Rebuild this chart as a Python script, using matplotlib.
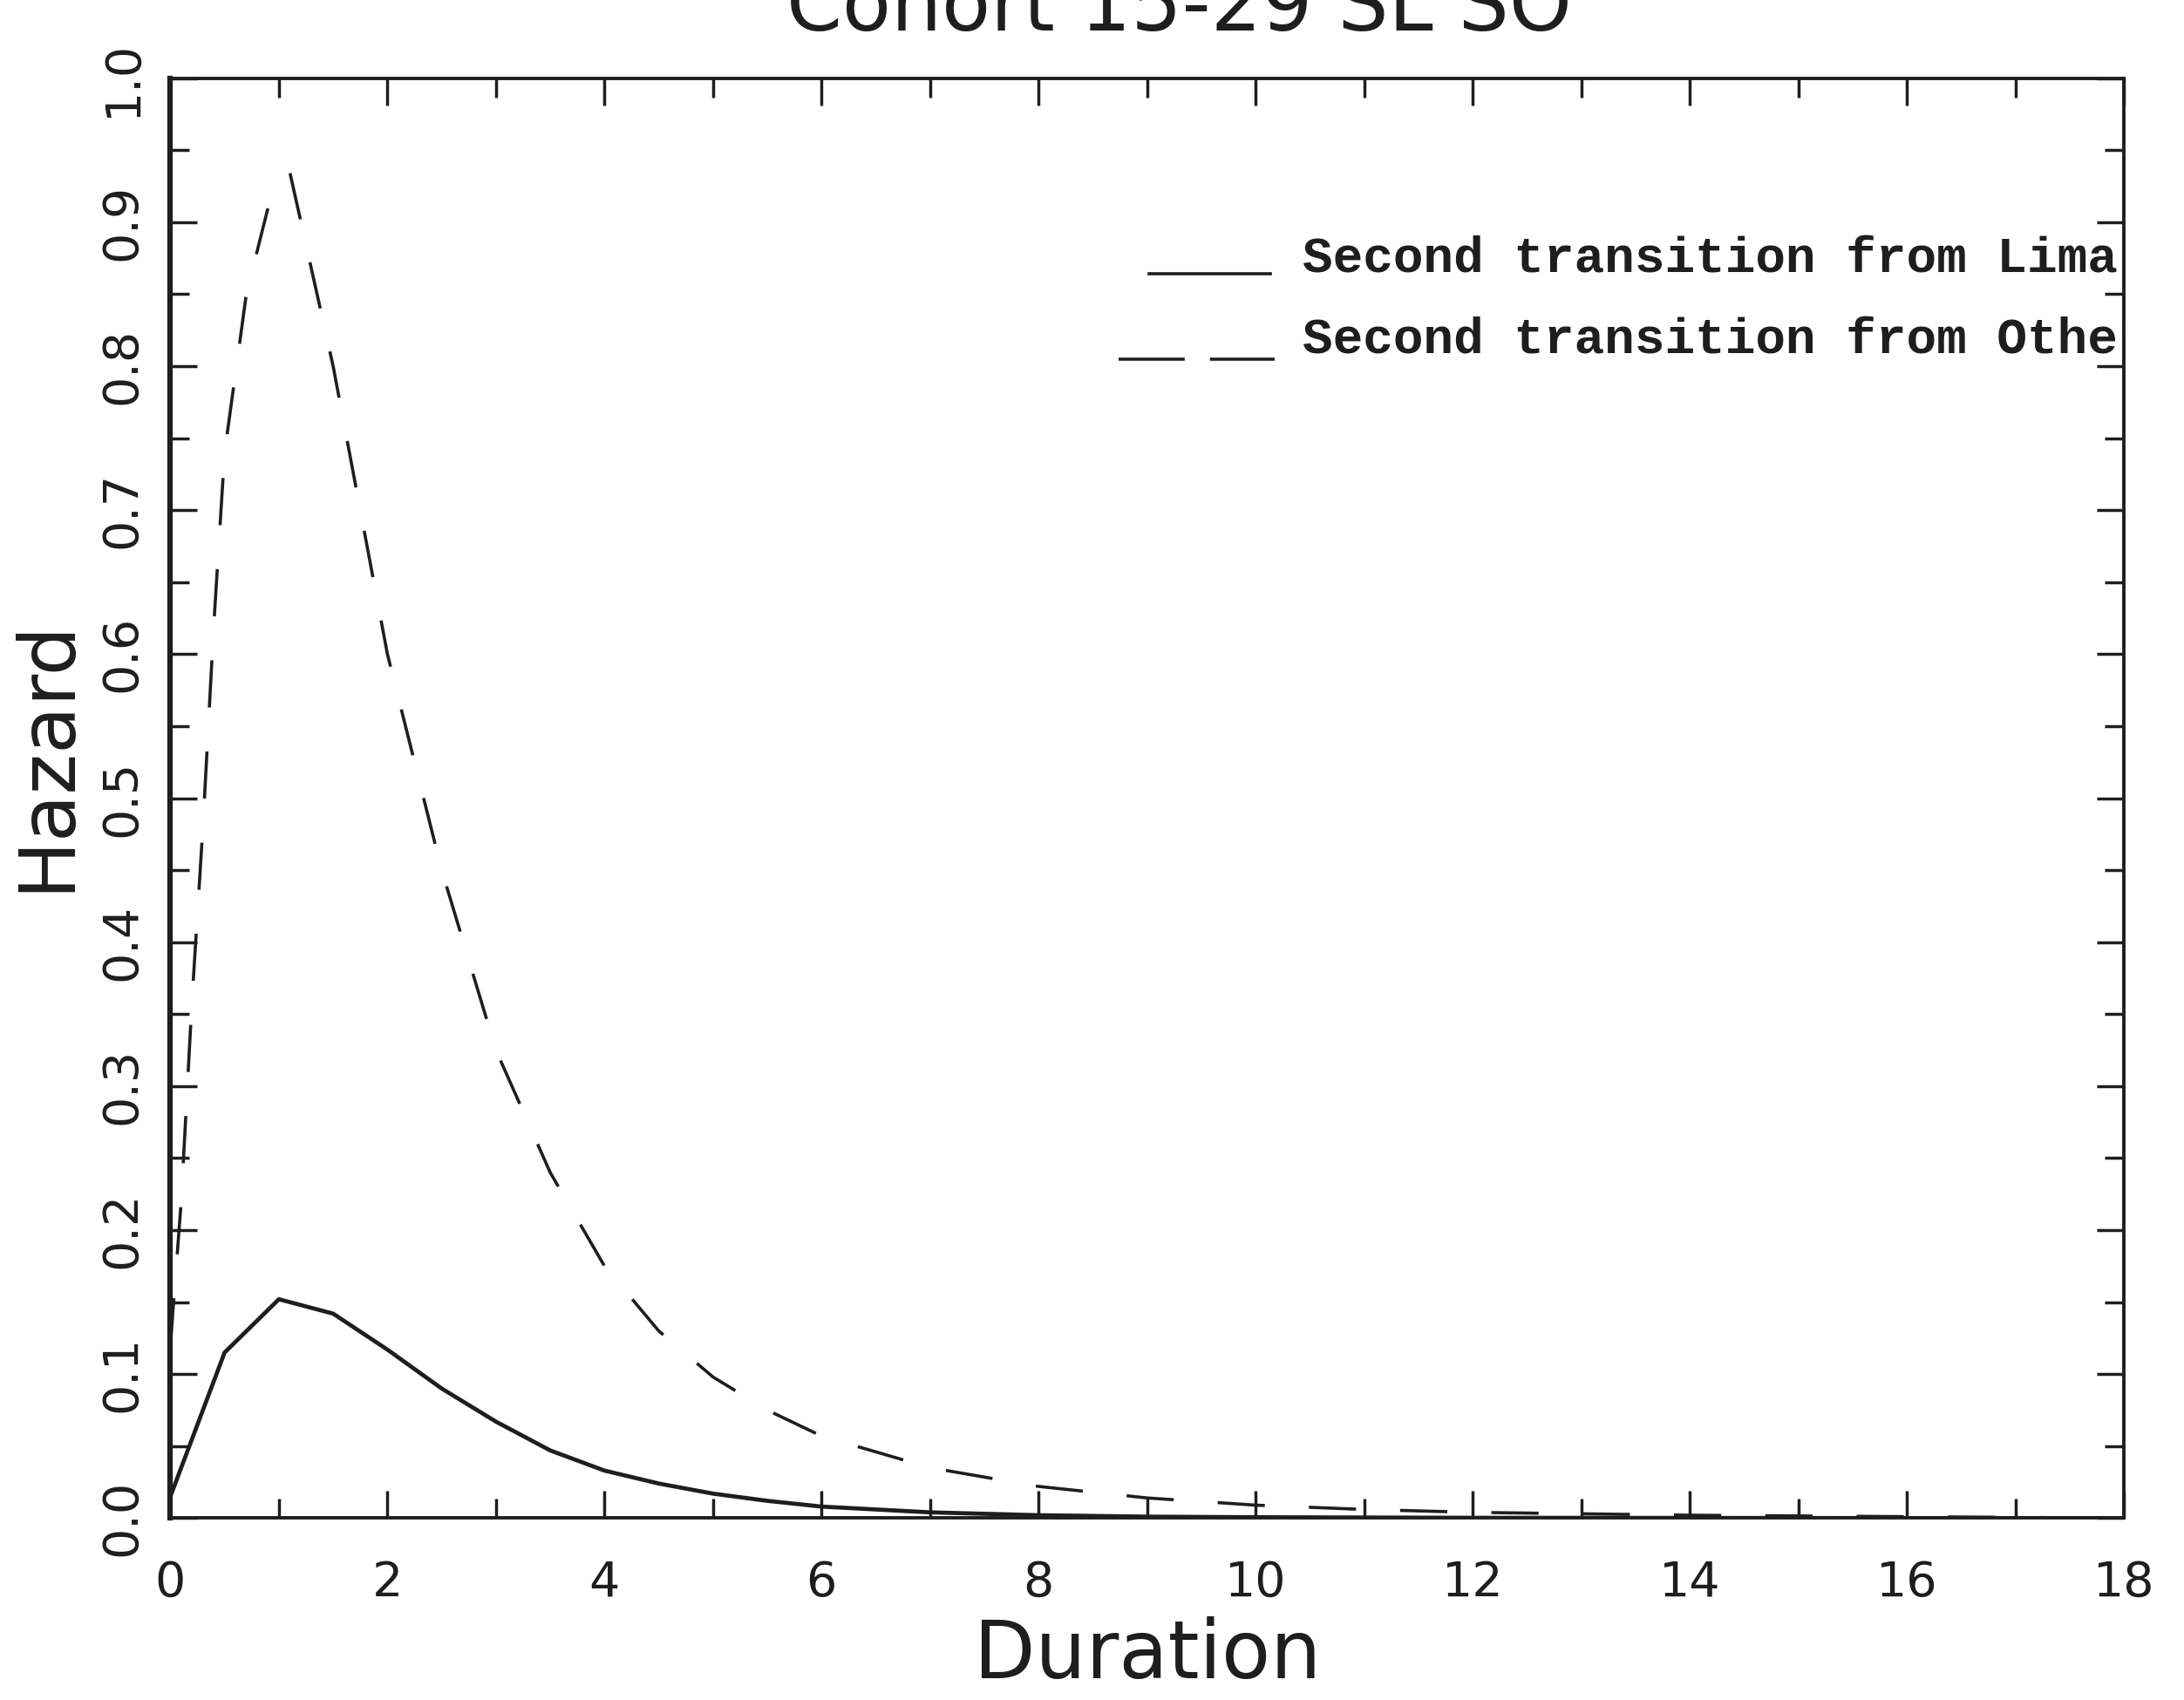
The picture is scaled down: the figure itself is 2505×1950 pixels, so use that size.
"""Hazard curves for second transitions, cohort 15-29."""

import matplotlib
matplotlib.use("Agg")
import matplotlib.pyplot as plt
from matplotlib.ticker import MultipleLocator

TITLE = "Cohort 15-29 SL SO"
LABELS = ["Second transition from Lima", "Second transition from Other"]

lima_x = [0, 0.5, 1, 1.5, 2, 2.5, 3, 3.5, 4, 4.5, 5, 5.5, 6, 7, 8, 9, 10, 12, 14, 16, 18]
lima_y = [0.015, 0.115, 0.152, 0.142, 0.117, 0.09, 0.067, 0.047, 0.033, 0.024,
          0.017, 0.012, 0.008, 0.004, 0.002, 0.001, 0.0006, 0.0002, 0.0001, 0.0, 0.0]

other_x = [0, 0.1, 0.2, 0.3, 0.4, 0.5, 0.7, 0.9, 1.1, 1.5, 2, 2.5, 3, 3.5, 4, 4.5,
           5, 5.5, 6, 7, 8, 9, 10, 11, 12, 13, 14, 16, 18]
other_y = [0.12, 0.22, 0.36, 0.48, 0.62, 0.74, 0.85, 0.91, 0.935, 0.80, 0.60, 0.45,
           0.325, 0.24, 0.175, 0.13, 0.098, 0.075, 0.057, 0.035, 0.022, 0.014,
           0.009, 0.006, 0.004, 0.003, 0.002, 0.001, 0.0]

INK = "#1e1e1e"

fig = plt.figure(figsize=(25.05, 19.5), dpi=100)
ax = fig.add_axes([0.078, 0.107, 0.8945, 0.847])

ax.plot(lima_x, lima_y, color=INK, linewidth=3.4)
ax.plot(other_x, other_y, color=INK, linewidth=2.6, dashes=(15, 14))

ax.set_xlim(0, 18)
ax.set_ylim(0, 1.0)
ax.xaxis.set_major_locator(MultipleLocator(2))
ax.xaxis.set_minor_locator(MultipleLocator(1))
ax.yaxis.set_major_locator(MultipleLocator(0.1))
ax.yaxis.set_minor_locator(MultipleLocator(0.05))
ax.set_yticks([i / 10 for i in range(11)])
ax.set_yticklabels([f"{i / 10:.1f}" for i in range(11)], rotation=90, va="center")

ax.tick_params(which="both", direction="in", top=True, right=True, color=INK,
               width=2.5, labelcolor=INK)
ax.tick_params(which="major", length=22, labelsize=40)
ax.tick_params(axis="x", which="major", pad=34)
ax.tick_params(axis="y", which="major", pad=20)
ax.tick_params(which="minor", length=16)

for side in ["top", "right", "bottom"]:
    ax.spines[side].set_linewidth(2.8)
    ax.spines[side].set_color(INK)
ax.spines["left"].set_linewidth(4.5)
ax.spines["left"].set_color(INK)

ax.set_xlabel("Duration", fontsize=66, color=INK, labelpad=8)
ax.set_ylabel("Hazard", fontsize=64, color=INK)
ax.yaxis.set_label_coords(-0.044, 0.53)

# legend drawn by hand so the text gets clipped by the right frame
ax.plot([0.501, 0.563], [0.864, 0.864], transform=ax.transAxes, color=INK, linewidth=2.6)
ax.plot([0.4855, 0.5654], [0.805, 0.805], transform=ax.transAxes, color=INK,
        linewidth=2.6, dashes=(21, 8))
for label, ty in zip(LABELS, [0.8747, 0.8184]):
    ax.text(0.5797, ty, label, transform=ax.transAxes, fontsize=41.5,
            family="Liberation Mono", weight="bold", color=INK,
            va="center", ha="left", clip_on=True)

# title sits half outside the page, as in the scan
fig.text(0.54, 1 - 35 / 1950, TITLE, fontsize=66, color=INK, ha="center", va="baseline")

plt.savefig("out.png", dpi=100, facecolor="white")
